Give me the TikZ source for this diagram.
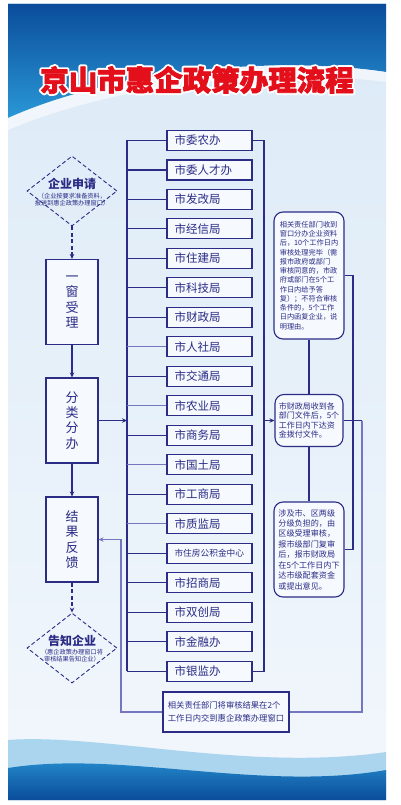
\documentclass[tikz,border=0pt]{standalone}
\usepackage{fontspec}
\setmainfont{Liberation Sans}
\newfontfamily\cjk{Noto Sans CJK SC}
\usetikzlibrary{shapes.geometric,arrows.meta}
\definecolor{navy}{HTML}{2B2C86}
\definecolor{lnavy}{HTML}{7476C0}
\definecolor{boxfill}{HTML}{F6F9FD}
\definecolor{titlered}{HTML}{E3101B}
\definecolor{topblue}{HTML}{0A4C9B}
\definecolor{midblue}{HTML}{2A98D6}
\definecolor{bodytop}{HTML}{DCEAF7}
\definecolor{bodybot}{HTML}{F2F7FC}
\begin{document}
\begin{tikzpicture}[x=1pt,y=-1pt,font=\cjk,
  conn/.style={draw=navy,line width=1.1pt},
  lconn/.style={draw=lnavy,line width=1.1pt},
  arr/.style={-{Stealth[length=5pt,width=4.5pt]}},
  dashline/.style={dash pattern=on 4pt off 2.5pt},
  dept/.style={draw=navy,line width=1.1pt,fill=boxfill,minimum height=20pt,
    text width=70pt,inner xsep=7.5pt,inner ysep=0pt,align=left,text=navy,
    font=\cjk\fontsize{11.5}{12}\selectfont},
  stage/.style={draw=navy,line width=1.1pt,fill=boxfill,minimum width=52pt,
    minimum height=85pt,inner sep=0pt,align=center,text=navy,
    font=\cjk\fontsize{13}{15.2}\selectfont},
  dia/.style={diamond,draw=navy,line width=0.9pt,dashline,minimum width=90pt,
    minimum height=70pt,inner sep=0pt},
  diatext/.style={align=center,text=navy,inner sep=0pt,
    font=\cjk\fontsize{6.2}{6.8}\selectfont},
  diahead/.style={text=navy,inner sep=0pt,
    font=\cjk\bfseries\fontsize{12}{13.5}\selectfont},
  rbox/.style={draw=navy,line width=1.1pt,fill=boxfill,rounded corners=9pt,
    inner sep=0pt,align=left,text=navy},
  notebox/.style={draw=navy,line width=1.1pt,fill=boxfill,inner sep=0pt,
    align=left,text=navy},
  titletext/.style={font=\cjk\bfseries\fontsize{28.5}{30}\selectfont,inner sep=0pt}
]
\useasboundingbox (0,0) rectangle (400,805);
% ---------- background ----------
\fill[white] (0,0) rectangle (400,805);
\shade[top color=bodytop,bottom color=bodybot] (8,4) rectangle (386,800);
\shade[top color=topblue,bottom color=midblue]
  (8,4) -- (386,4) -- (386,72) .. controls (280,56) and (120,68) .. (8,118) -- cycle;
\fill[white,opacity=0.55]
  (8,118) .. controls (120,68) and (280,56) .. (386,72) -- (386,82)
  .. controls (280,68) and (120,82) .. (8,130) -- cycle;
\fill[midblue,opacity=0.35]
  (8,740) .. controls (100,733) and (250,772) .. (386,752) -- (386,800) -- (8,800) -- cycle;
\shade[top color=midblue,bottom color=topblue]
  (8,768) .. controls (120,750) and (260,792) .. (386,770) -- (386,800) -- (8,800) -- cycle;
% ---------- title (white outline + red) ----------
\node[titletext,text=white] (titleo) at (197,80)
  {\special{pdf:code 2 Tr 4.6 w 1 j}京山市惠企政策办理流程\special{pdf:code 0 Tr}};
\node[titletext,text=titlered] (title) at (197,80)
  {\special{pdf:code 2 Tr 0.7 w 1 j}京山市惠企政策办理流程\special{pdf:code 0 Tr}};
% ---------- left column ----------
\node[dia] (apply) at (72,191) {};
\node[diahead] (applyh) at (72,184) {企业申请};
\node[diatext] (applyt) at (72,199.5) {（企业按要求准备资料，\\报送到惠企政策办理窗口）};
\node[stage] (yc) at (72,302) {一\\窗\\受\\理};
\node[stage] (fl) at (72,420.5) {分\\类\\分\\办};
\node[stage] (jg) at (72,539.5) {结\\果\\反\\馈};
\node[dia] (notify) at (72,648) {};
\node[diahead] (notifyh) at (72,641) {告知企业};
\node[diatext] (notifyt) at (72,656) {（惠企政策办理窗口将\\审核结果告知企业）};
\draw[conn,arr,dashline] (apply.south) -- (yc.north);
\draw[conn,arr] (yc.south) -- (fl.north);
\draw[conn,arr] (fl.south) -- (jg.north);
\draw[conn,arr,dashline] (jg.south) -- (notify.north);
% ---------- departments ----------
\foreach \t [count=\i] in {市委农办,市委人才办,市发改局,市经信局,市住建局,市科技局,
  市财政局,市人社局,市交通局,市农业局,市商务局,市国土局,市工商局,市质监局,
  {\fontsize{8.7}{10}\selectfont 市住房公积金中心},市招商局,市双创局,市金融办,市银监办}
  \node[dept] (d\i) at (209.5,{140.5+(\i-1)*29.48}) {\t};
\coordinate (tk) at (127,420.5);
\draw[conn] (d1.west -| tk) -- (d19.west -| tk);
\foreach \i in {1,2,3,4,5,6,7,9,11,13,15,16,17,18,19}
  \draw[conn] (d\i.west) -- (d\i.west -| tk);
\foreach \i in {8,10,12,14}
  \draw[lconn] (d\i.west) -- (d\i.west -| tk);
\draw[conn,arr] (fl.east) -- (tk);
% ---------- right boxes ----------
\node[rbox,minimum width=70pt,minimum height=127pt,
  font=\cjk\fontsize{7.2}{9.27}\selectfont] (ba) at (309,275.5)
  {相关责任部门收到\\窗口分办企业资料\\后，10个工作日内\\审核处理完毕（需\\报市政府或部门\\审核同意的，市政\\府或部门在5个工\\作日内给予答\\复）；不符合审核\\条件的，5个工作\\日内函复企业，说\\明理由。};
\node[rbox,minimum width=68pt,minimum height=52pt,
  font=\cjk\fontsize{8}{9.2}\selectfont] (bb) at (309,420.5)
  {市财政局收到各\\部门文件后，5个\\工作日内下达资\\金拨付文件。};
\node[rbox,minimum width=70pt,minimum height=95pt,
  font=\cjk\fontsize{8.1}{10.45}\selectfont] (bc) at (309,549.5)
  {涉及市、区两级\\分级负担的，由\\区级受理审核，\\报市级部门复审\\后，报市财政局\\在5个工作日内下\\达市级配套资金\\或提出意见。};
\coordinate (rb) at (264,420.5);
\draw[conn] (d1.east) -| (rb) |- (d19.east);
\draw[conn,arr] (rb) -- (bb.west);
\draw[conn] (ba.south) -- (bb.north);
\draw[conn] (bb.south) -- (bc.north);
\coordinate (rb2) at (353,420.5);
\draw[conn] (ba.east) -| (rb2) |- (bc.east);
\coordinate (rb3) at (362,420.5);
\draw[conn] (bb.east) -- (rb3);
% ---------- bottom box ----------
\node[notebox,minimum width=126pt,minimum height=40pt,
  font=\cjk\fontsize{8.3}{13}\selectfont] (bot) at (226,712)
  {相关责任部门将审核结果在2个\\工作日内交到惠企政策办理窗口};
\draw[lconn] (rb3) |- (bot.east);
\coordinate (fb) at (121,712);
\draw[lconn,arr] (bot.west) -- (fb) |- (jg.east);
\end{tikzpicture}
\end{document}
